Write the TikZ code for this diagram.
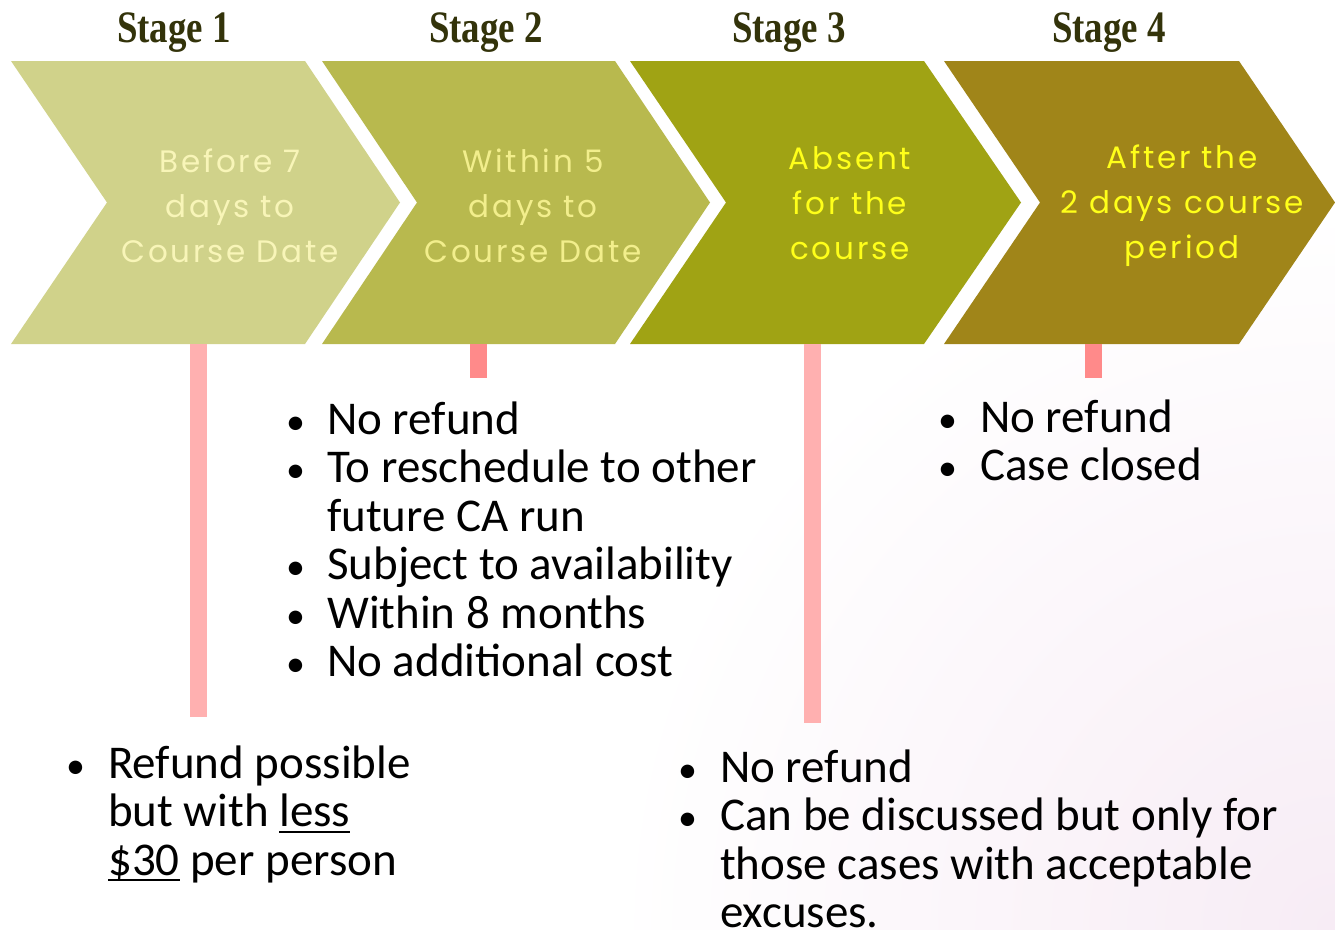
\documentclass[tikz,border=0pt]{standalone}
\usepackage{fontspec}
\setmainfont{Carlito}
\newfontfamily\stagefont[FakeStretch=0.82]{Liberation Serif}
\newfontfamily\chevfont[LetterSpace=9]{Poppins}
\newcommand{\ulword}[1]{\setbox0=\hbox{#1}\rlap{\rule[-6pt]{\wd0}{1.8pt}}\box0\relax}
\newcommand{\dotmark}{{\fontsize{38}{38}\selectfont\textbullet}}
\definecolor{chevA}{HTML}{D0D28A}
\definecolor{chevB}{HTML}{B8B94E}
\definecolor{chevC}{HTML}{A0A314}
\definecolor{chevD}{HTML}{A08519}
\definecolor{paleA}{HTML}{F8F5B8}
\definecolor{paleB}{HTML}{F2EE8C}
\definecolor{brightC}{HTML}{FFFF1A}
\definecolor{stagetext}{HTML}{33330A}
\definecolor{barlight}{HTML}{FFB0B0}
\definecolor{bardark}{HTML}{FF8A8A}
\definecolor{bgpink}{HTML}{F7ECF5}
\begin{document}
\begin{tikzpicture}[x=1pt,y=-1pt,
        stagelabel/.style={anchor=base,inner sep=0,text=stagetext,
            font=\stagefont\bfseries\fontsize{45}{45}\selectfont},
        chevtext/.style={align=center,inner sep=0,
            font=\chevfont\fontsize{31}{45}\selectfont},
        pinkbar/.style={line width=17pt,line cap=butt},
        bullets/.style={anchor=base west,inner sep=0,
            font=\fontsize{47}{48.5}\selectfont}]
        \useasboundingbox (0,0) rectangle (1335,929);
        %% Background
        \fill[white] (0,0) rectangle (1335,929);
        \begin{scope}
            \clip (0,0) rectangle (1335,929);
            \shade[inner color=bgpink,outer color=white] (1335,929) circle (720);
        \end{scope}
        %% Chevrons
        \fill[chevA] (11,61) -- (305,61) -- (400,202.5) -- (305,344) -- (11,344) -- (107,202.5) -- cycle;
        \fill[chevB] (322,61) -- (615,61) -- (710,202.5) -- (615,344) -- (322,344) -- (417,202.5) -- cycle;
        \fill[chevC] (630,61) -- (924,61) -- (1021,202.5) -- (924,344) -- (630,344) -- (726,202.5) -- cycle;
        \fill[chevD] (944,61) -- (1239,61) -- (1335,202.5) -- (1239,344) -- (944,344) -- (1040,202.5) -- cycle;
        %% Stage labels
        \node[stagelabel] (stage1) at (174,42) {Stage 1};
        \node[stagelabel] (stage2) at (486,42) {Stage 2};
        \node[stagelabel] (stage3) at (789,42) {Stage 3};
        \node[stagelabel] (stage4) at (1109,42) {Stage 4};
        %% Chevron texts
        \node[chevtext,text=paleA] (before) at (230,206) {Before 7\\days to\\Course Date};
        \node[chevtext,text=paleB] (within) at (533,206) {Within 5\\days to\\Course Date};
        \node[chevtext,text=brightC] (absent) at (850,203) {Absent\\for the\\course};
        \node[chevtext,text=brightC] (after) at (1182,206) {After the\\2 days course\\period};
        %% Connectors
        \coordinate (top1) at (198.5,344);  \coordinate (end1) at (198.5,717);
        \coordinate (top2) at (478.5,344);  \coordinate (end2) at (478.5,378);
        \coordinate (top3) at (812.5,344);  \coordinate (end3) at (812.5,723);
        \coordinate (top4) at (1093.5,344); \coordinate (end4) at (1093.5,378);
        \draw[pinkbar,barlight] (top1) -- (end1);
        \draw[pinkbar,bardark] (top2) -- (end2);
        \draw[pinkbar,barlight] (top3) -- (end3);
        \draw[pinkbar,bardark] (top4) -- (end4);
        %% Lists
        \node[bullets] (list1) at (66,778) {\begin{tabular}[t]{@{}p{42pt}@{}l@{}}
            \dotmark & Refund possible\\
            & but with \ulword{less}\\
            & \ulword{\$30} per person
        \end{tabular}};
        \node[bullets] (list2) at (286,434) {\begin{tabular}[t]{@{}p{41pt}@{}l@{}}
            \dotmark & No refund\\
            \dotmark & To reschedule to other\\
            & future CA run\\
            \dotmark & Subject to availability\\
            \dotmark & Within 8 months\\
            \dotmark & No additional cost
        \end{tabular}};
        \node[bullets] (list3) at (678,782) {\begin{tabular}[t]{@{}p{42pt}@{}l@{}}
            \dotmark & No refund\\
            \dotmark & Can be discussed but only for\\
            & those cases with acceptable\\
            & excuses.
        \end{tabular}};
        \node[bullets] (list4) at (938,432) {\begin{tabular}[t]{@{}p{42pt}@{}l@{}}
            \dotmark & No refund\\
            \dotmark & Case closed
        \end{tabular}};
    \end{tikzpicture}
\end{document}
